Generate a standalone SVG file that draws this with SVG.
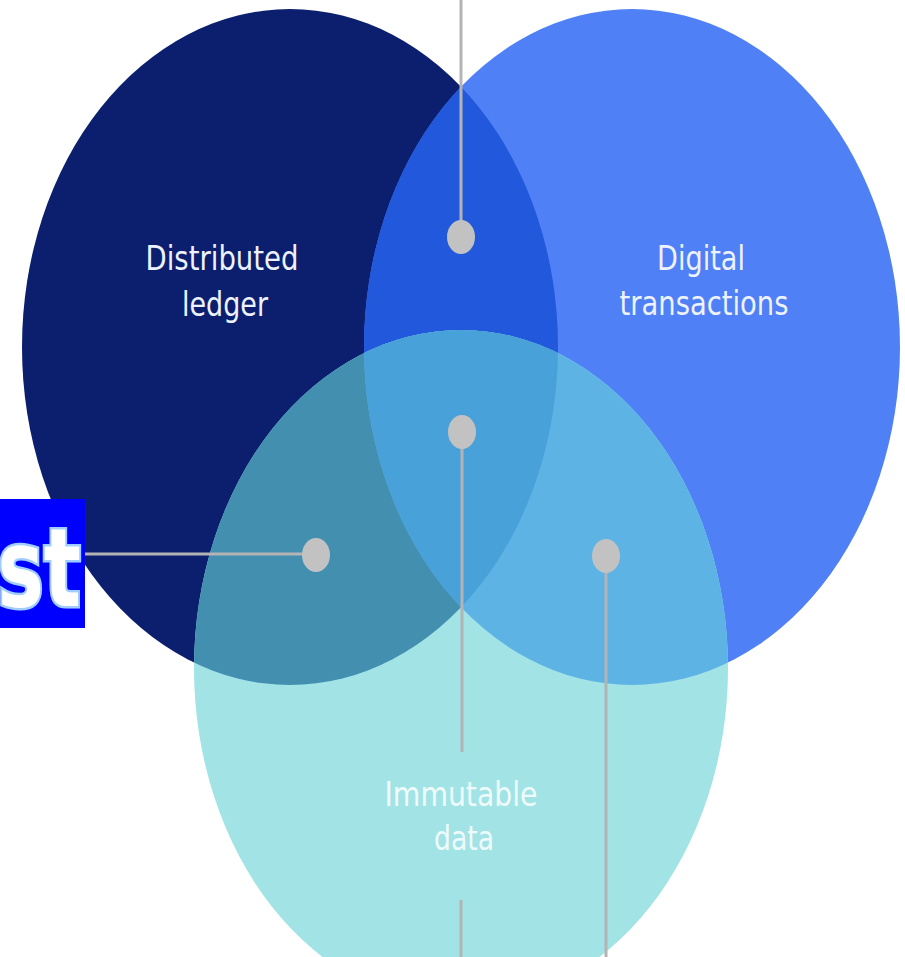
<svg xmlns="http://www.w3.org/2000/svg" width="905" height="957" viewBox="0 0 905 957">
<style>
.lbl{font-family:"DejaVu Sans Condensed","Liberation Sans Narrow","Liberation Sans",sans-serif;font-size:34px;fill:#eef2ff;text-anchor:middle}
.conn{stroke:#b4b4b4;stroke-width:3;fill:none}
.dot{fill:#c2c2c2}
</style>
<defs>
<clipPath id="cD"><ellipse cx="290" cy="347" rx="268" ry="338"/></clipPath>
<clipPath id="cR"><ellipse cx="632" cy="347" rx="268" ry="338"/></clipPath>
</defs>
<rect width="905" height="957" fill="#ffffff"/>
<g id="node-distributed-ledger">
<ellipse cx="290" cy="347" rx="268" ry="338" fill="#0b1f6e"/>
<text class="lbl" x="222" y="270" textLength="153" lengthAdjust="spacingAndGlyphs">Distributed</text>
<text class="lbl" x="225" y="316" textLength="86" lengthAdjust="spacingAndGlyphs">ledger</text>
</g>
<g id="node-digital-transactions">
<ellipse cx="632" cy="347" rx="268" ry="338" fill="#4f80f5"/>
<ellipse cx="632" cy="347" rx="268" ry="338" fill="#2258dc" clip-path="url(#cD)"/>
<text class="lbl" x="701" y="270" textLength="88" lengthAdjust="spacingAndGlyphs">Digital</text>
<text class="lbl" x="704" y="315" textLength="169" lengthAdjust="spacingAndGlyphs">transactions</text>
</g>
<g id="node-immutable-data">
<ellipse cx="461" cy="668" rx="267" ry="338" fill="#a2e3e6"/>
<ellipse cx="461" cy="668" rx="267" ry="338" fill="#438fb0" clip-path="url(#cD)"/>
<ellipse cx="461" cy="668" rx="267" ry="338" fill="#5eb3e5" clip-path="url(#cR)"/>
<g clip-path="url(#cD)"><ellipse cx="461" cy="668" rx="267" ry="338" fill="#48a1d8" clip-path="url(#cR)"/></g>
<text class="lbl" x="461" y="806" textLength="153" lengthAdjust="spacingAndGlyphs" style="fill:#effbfb">Immutable</text>
<text class="lbl" x="464" y="850" textLength="60" lengthAdjust="spacingAndGlyphs" style="fill:#effbfb">data</text>
</g>
<g id="connectors">
<line class="conn" x1="461" y1="0" x2="461" y2="237"/>
<line class="conn" x1="462" y1="432" x2="462" y2="752"/>
<line class="conn" x1="461" y1="900" x2="461" y2="957"/>
<line class="conn" x1="606" y1="556" x2="606" y2="957"/>
<line class="conn" x1="85" y1="554" x2="316" y2="554"/>
</g>
<g id="dots">
<ellipse class="dot" cx="461" cy="237" rx="14" ry="17"/>
<ellipse class="dot" cx="462" cy="432" rx="14" ry="17"/>
<ellipse class="dot" cx="316" cy="555" rx="14" ry="17"/>
<ellipse class="dot" cx="606" cy="556" rx="14" ry="17"/>
</g>
<g id="node-st">
<rect x="0" y="499" width="85" height="129" fill="#0000ff"/>
<text x="0" y="0" transform="translate(81,606) scale(0.8,1)" font-family="'DejaVu Sans Condensed','Liberation Sans Narrow',sans-serif" font-weight="bold" font-size="108" fill="#ffffff" stroke="#9fcdff" stroke-width="5" paint-order="stroke" text-anchor="end">st</text>
</g>
</svg>
